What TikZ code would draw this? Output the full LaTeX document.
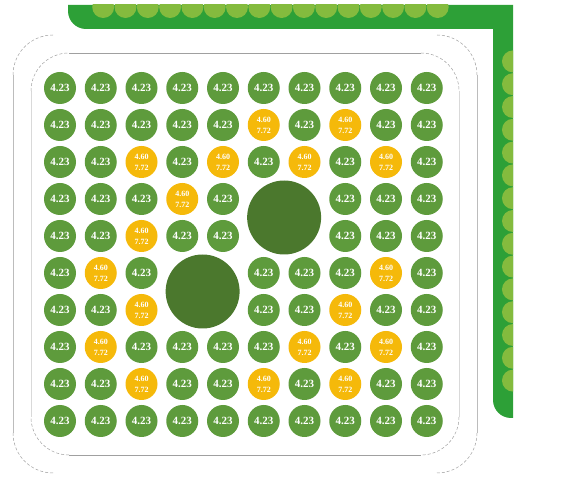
\documentclass[tikz,border=0pt]{standalone}
\usepackage{fontspec}
\setmainfont{Liberation Serif}
\usetikzlibrary{calc}
\definecolor{leaf}{HTML}{5E9B3C}
\definecolor{amber}{HTML}{F5B90A}
\definecolor{moss}{HTML}{4B782D}
\definecolor{band}{HTML}{2DA037}
\definecolor{sprout}{HTML}{84BB3E}
\definecolor{rim}{HTML}{A0A0A0}
\newcommand{\wellg}{4.23}
\newcommand{\welly}{4.60\\7.72}

\begin{document}
\begin{tikzpicture}[
  x=1pt, y=-1pt,
  well/.style={circle, inner sep=0pt, minimum size=32pt, text=white},
  well g/.style={well, fill=leaf, font=\bfseries\fontsize{11}{12}\selectfont},
  well y/.style={well, fill=amber, align=center, font=\bfseries\fontsize{8}{11}\selectfont},
  pile/.style={circle, fill=moss, minimum size=74pt, inner sep=0pt},
  rimline/.style={rim, line width=0.6pt},
  rimarc/.style={rim, line width=0.5pt, densely dashed},
  scallop/.style={sprout},
]
  \useasboundingbox[fill=white] (0,0) rectangle (574,486);

  % green border strip
  \fill[band] (68,5) -- (513,5) -- (513,418) -- (511,418)
    arc[start angle=90, end angle=180, radius=18] -- (493,29) -- (86,29)
    arc[start angle=90, end angle=180, radius=18] -- cycle;
  \begin{scope}
    \clip (68,5) rectangle (513,418);
    \foreach \i in {0,...,15}
      \fill[scallop] ({103.2+22.3*\i},7) circle[radius=11];
    \foreach \i in {0,...,14}
      \fill[scallop] (513,{61.4+22.8*\i}) circle[radius=11];
  \end{scope}

  % outer frame
  \draw[rimline, rim!70] (13,75) -- (13,433);
  \draw[rimline, rim!70] (477,75) -- (477,433);
  \draw[rimarc] (13,75) arc[start angle=180, end angle=270, radius=40];
  \draw[rimarc] (437,35) arc[start angle=270, end angle=360, radius=40];
  \draw[rimarc] (477,433) arc[start angle=0, end angle=90, radius=40];
  \draw[rimarc] (53,473) arc[start angle=90, end angle=180, radius=40];

  % inner frame
  \draw[rimline] (69,53) -- (421,53);
  \draw[rimline] (69,455) -- (421,455);
  \draw[rimline, rim!40] (31,91) -- (31,417);
  \draw[rimline, rim!40] (459,91) -- (459,417);
  \draw[rimarc] (31,91) arc[start angle=180, end angle=270, radius=38];
  \draw[rimarc] (421,53) arc[start angle=270, end angle=360, radius=38];
  \draw[rimarc] (459,417) arc[start angle=0, end angle=90, radius=38];
  \draw[rimarc] (69,455) arc[start angle=90, end angle=180, radius=38];

  % wells: g = 4.23, y = 4.60/7.72, n = none
  \foreach \line [count=\r] in {
      {g,g,g,g,g,g,g,g,g,g},
      {g,g,g,g,g,y,g,y,g,g},
      {g,g,y,g,y,g,y,g,y,g},
      {g,g,g,y,g,n,n,g,g,g},
      {g,g,y,g,g,n,n,g,g,g},
      {g,y,g,n,n,g,g,g,y,g},
      {g,g,y,n,n,g,g,y,g,g},
      {g,y,g,g,g,g,y,g,y,g},
      {g,g,y,g,g,y,g,y,g,g},
      {g,g,g,g,g,g,g,g,g,g}}
    \foreach \k [count=\c] in \line {
      \if n\k\else
        \node[well \k] (w-\r-\c) at ({60+40.75*(\c-1)}, {88+37*(\r-1)})
          {\csname well\k\endcsname};
      \fi
    };

  \node[pile] (plugA) at ($(w-4-5)!0.5!(w-5-8)$) {};
  \node[pile] (plugB) at ($(w-6-3)!0.5!(w-7-6)$) {};
\end{tikzpicture}
\end{document}
